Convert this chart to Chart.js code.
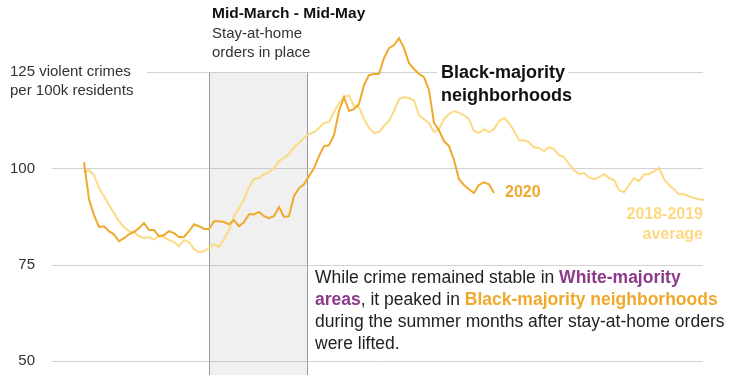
<!DOCTYPE html>
<html>
<head>
<meta charset="utf-8">
<script src="https://cdn.jsdelivr.net/npm/chart.js@4"></script>
<style>
  body { margin: 0; background: #fff; }
</style>
</head>
<body>
<canvas id="myChart" width="750" height="375"></canvas>
<script>
// violent crimes per 100k residents, Black-majority neighborhoods (rolling, ~3 day steps)
const crime2020 = [
    101.6, 92.0, 87.9, 84.8, 85.0, 83.7, 82.9, 81.1, 81.9, 82.9,
    83.5, 84.5, 85.8, 84.0, 84.0, 82.4, 82.7, 83.7, 83.2, 82.2,
    82.2, 83.7, 85.5, 85.0, 84.3, 84.3, 86.3, 86.3, 86.1, 85.5,
    86.6, 85.0, 86.1, 88.1, 88.1, 88.7, 87.6, 87.1, 87.6, 90.0,
    87.4, 87.6, 92.8, 94.9, 95.9, 98.0, 100.1, 103.2, 105.8, 106.0,
    108.6, 114.9, 118.5, 114.9, 115.4, 116.7, 121.6, 124.2, 124.5, 124.5,
    128.6, 131.2, 132.0, 133.8, 131.2, 127.3, 125.8, 124.5, 123.7, 120.3,
    111.8, 109.9, 107.1, 105.8, 102.2, 97.2, 95.7, 94.6, 93.6, 95.7,
    96.4, 95.9, 93.6
];
const crimeAvg = [
    99.0, 99.6, 98.3, 94.9, 92.8, 90.5, 88.4, 86.3, 84.8, 83.7,
    83.5, 82.4, 81.9, 82.2, 81.6, 82.4, 82.2, 81.4, 80.9, 79.8,
    81.4, 80.9, 79.1, 78.3, 78.5, 79.3, 80.4, 79.6, 81.6, 84.0,
    87.6, 89.7, 92.0, 95.1, 97.2, 97.5, 98.5, 99.0, 100.1, 101.9,
    102.7, 103.7, 105.5, 106.6, 107.9, 108.9, 109.4, 110.5, 111.8, 112.0,
    114.6, 116.9, 118.5, 119.0, 116.2, 115.9, 112.8, 110.5, 109.2, 109.4,
    111.0, 112.3, 114.9, 118.0, 118.5, 118.2, 117.7, 113.8, 112.8, 111.8,
    109.4, 110.2, 112.8, 114.1, 114.9, 114.4, 113.8, 112.8, 109.7, 109.2,
    110.2, 109.4, 110.2, 112.3, 113.1, 111.8, 109.7, 107.3, 107.3, 106.8,
    105.5, 105.3, 104.5, 105.5, 105.0, 103.5, 102.9, 101.1, 99.6, 98.5,
    98.8, 97.7, 97.2, 97.7, 98.5, 97.5, 97.0, 94.4, 93.8, 95.7,
    97.5, 96.7, 98.5, 98.5, 99.3, 100.1, 97.2, 95.7, 94.6, 93.3,
    93.3, 92.8, 92.3, 92.0, 91.8
];
const labels = crimeAvg.map((v, i) => i);
const yTicks = [50, 75, 100, 125];
// stay-at-home period, in label index units
const stayStart = 25;
const stayEnd = 44.6;

const FONT = '"Liberation Sans", Arial, sans-serif';
const DARK = '#efa92c';
const LIGHT = '#fdd983';

const decor = {
    id: 'decor',
    beforeDatasetsDraw(chart) {
        const ctx = chart.ctx, x = chart.scales.x, y = chart.scales.y;
        ctx.save();
        // shaded stay-at-home band
        const x0 = Math.round(x.getPixelForValue(stayStart)) + 0.5;
        const x1 = Math.round(x.getPixelForValue(stayEnd)) + 0.5;
        const top = Math.round(y.getPixelForValue(125)) + 0.5;
        ctx.fillStyle = '#f0f0f0';
        ctx.fillRect(x0, top, x1 - x0, chart.height - top);
        ctx.strokeStyle = '#9a9a9a';
        ctx.lineWidth = 1;
        ctx.beginPath();
        ctx.moveTo(x0, top); ctx.lineTo(x0, chart.height);
        ctx.moveTo(x1, top); ctx.lineTo(x1, chart.height);
        ctx.stroke();

        // grid lines
        ctx.strokeStyle = 'rgba(180,180,180,0.6)';
        yTicks.forEach(t => {
            const py = Math.round(y.getPixelForValue(t)) + 0.5;
            ctx.beginPath();
            if (t == 125) {
                ctx.moveTo(147, py); ctx.lineTo(437, py);
                ctx.moveTo(568, py); ctx.lineTo(703, py);
            } else {
                ctx.moveTo(52, py); ctx.lineTo(703, py);
            }
            ctx.stroke();
        });

        // tick labels
        ctx.fillStyle = '#333';
        ctx.font = '15px ' + FONT;
        ctx.textBaseline = 'middle';
        ctx.textAlign = 'left';
        yTicks.forEach(t => {
            const py = y.getPixelForValue(t);
            const w = ctx.measureText(String(t)).width;
            const txt = t == 125 ? '125 violent crimes' : String(t);
            ctx.fillText(txt, 35 - w, py);
        });
        ctx.fillText('per 100k residents', 35 - ctx.measureText('125').width, y.getPixelForValue(125) + 19);
        ctx.restore();
    },
    afterDatasetsDraw(chart) {
        const ctx = chart.ctx;
        ctx.save();
        ctx.textBaseline = 'middle';
        ctx.textAlign = 'left';

        ctx.fillStyle = '#111';
        ctx.font = 'bold 15.5px ' + FONT;
        ctx.fillText('Mid-March - Mid-May', 212, 14);
        ctx.fillStyle = '#333';
        ctx.font = '15px ' + FONT;
        ctx.fillText('Stay-at-home', 212, 34);
        ctx.fillText('orders in place', 212, 53);

        ctx.fillStyle = '#111';
        ctx.font = 'bold 18px ' + FONT;
        ctx.fillText('Black-majority', 441, 73);
        ctx.fillText('neighborhoods', 441, 96);

        ctx.fillStyle = DARK;
        ctx.font = 'bold 16px ' + FONT;
        ctx.fillText('2020', 505, 193);
        ctx.fillStyle = LIGHT;
        ctx.textAlign = 'right';
        ctx.fillText('2018-2019', 703, 215);
        ctx.fillText('average', 703, 235);

        // annotation with mixed styles
        ctx.textAlign = 'left';
        const lines = [
            [['While crime remained stable in ', '#222', false], ['White-majority', '#8c3a8e', true]],
            [['areas', '#8c3a8e', true], [', it peaked in ', '#222', false], ['Black-majority neighborhoods', '#efa92c', true]],
            [['during the summer months after stay-at-home orders', '#222', false]],
            [['were lifted.', '#222', false]]
        ];
        lines.forEach((parts, i) => {
            let px = 315;
            const py = 278 + i * 22;
            parts.forEach(p => {
                ctx.font = (p[2] ? 'bold ' : '') + '17.5px ' + FONT;
                ctx.fillStyle = p[1];
                ctx.fillText(p[0], px, py);
                px += ctx.measureText(p[0]).width;
            });
        });
        ctx.restore();
    }
};

const ctx = document.getElementById('myChart').getContext('2d');
const chart = new Chart(ctx, {
    type: 'line',
    data: {
        labels: labels,
        datasets: [
            { label: '2020', data: crime2020, borderColor: DARK, borderWidth: 2, pointRadius: 0, tension: 0 },
            { label: '2018-2019 average', data: crimeAvg, borderColor: LIGHT, borderWidth: 2, pointRadius: 0, tension: 0 }
        ]
    },
    options: {
        responsive: false,
        animation: false,
        devicePixelRatio: 1,
        layout: { padding: { left: 84, right: 46, top: 0, bottom: 0 } },
        scales: {
            x: { display: false },
            y: { display: false, min: 46.4, max: 143.7 }
        },
        plugins: { legend: { display: false }, tooltip: { enabled: false } }
    },
    plugins: [decor]
});
</script>
</body>
</html>
